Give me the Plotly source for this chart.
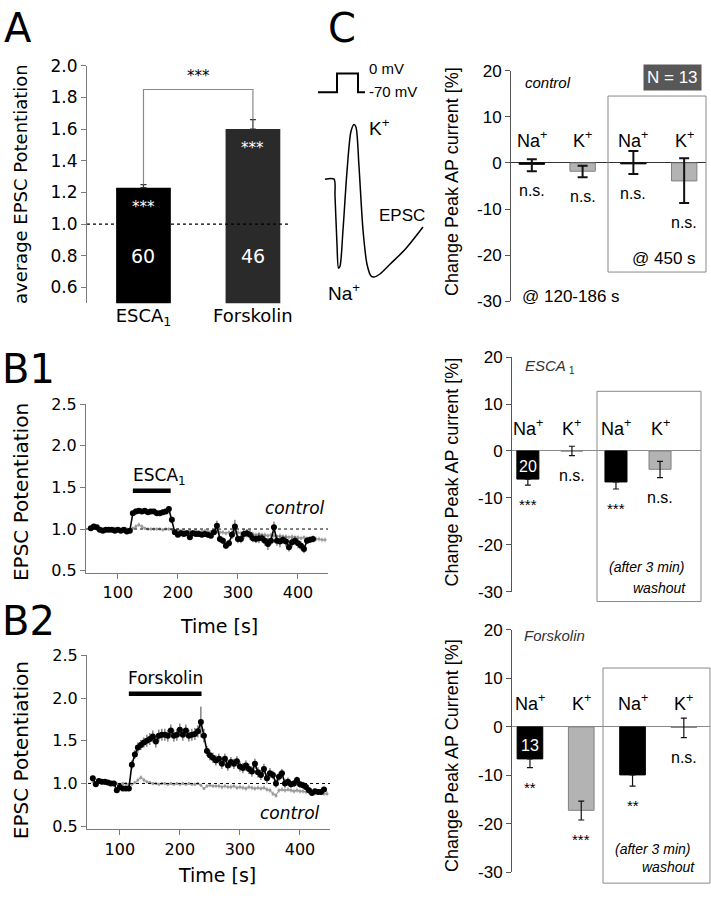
import plotly.graph_objects as go

W, H = 711, 899


def px(x):
    return x / W


def py(y):
    return 1 - y / H


# ---------------- data ----------------
# panel A
a_groups = ["ESCA<sub>1</sub>", "Forskolin"]
a_pos = [1, 2]
a_mean = [1.23, 1.60]
a_err = [0.02, 0.06]
a_n = ["60", "46"]
a_sig = ["***", "***"]
a_pair_sig = "***"

# panel B1 (ESCA1)
b1_t = [55, 60, 65, 70, 75, 80, 85, 90, 95, 100, 105, 110, 115, 120, 125, 130, 135, 140, 145, 150,
        155, 160, 165, 170, 175, 180, 185, 190, 195, 200, 205, 210, 215, 220, 225, 230, 235, 240, 245, 250,
        255, 260, 265, 270, 275, 280, 285, 290, 295, 300, 305, 310, 315, 320, 325, 330, 335, 340, 345, 350,
        355, 360, 365, 370, 375, 380, 385, 390, 395, 400, 405, 410, 415, 420, 425]
b1_val = [1.01, 1.03, 1.02, 0.99, 0.98, 0.99, 0.99, 0.99, 0.98, 0.99, 0.98, 0.99, 0.97, 0.98, 1.19, 1.21, 1.22, 1.21, 1.22, 1.20,
          1.21, 1.21, 1.19, 1.19, 1.20, 1.21, 1.24, 1.11, 0.96, 0.93, 0.95, 0.94, 0.95, 0.90, 0.95, 0.94, 0.94, 0.93, 0.94, 0.93,
          0.92, 0.96, 1.04, 0.88, 0.86, 0.80, 0.83, 0.93, 1.03, 0.88, 0.88, 0.94, 0.95, 0.93, 0.89, 0.88, 0.89, 0.89, 0.86, 0.82,
          0.86, 1.02, 0.86, 0.85, 0.87, 0.85, 0.78, 0.84, 0.86, 0.83, 0.80, 0.76, 0.86, 0.87, 0.88]
b1_err = [0.02, 0.02, 0.02, 0.02, 0.02, 0.02, 0.02, 0.02, 0.02, 0.02, 0.02, 0.02, 0.02, 0.02, 0.03, 0.03, 0.03, 0.03, 0.03, 0.03,
          0.03, 0.03, 0.03, 0.03, 0.03, 0.03, 0.03, 0.04, 0.03, 0.03, 0.03, 0.03, 0.03, 0.03, 0.03, 0.03, 0.03, 0.03, 0.03, 0.03,
          0.03, 0.03, 0.06, 0.04, 0.04, 0.04, 0.04, 0.05, 0.08, 0.05, 0.05, 0.06, 0.05, 0.06, 0.05, 0.05, 0.06, 0.05, 0.06, 0.07,
          0.05, 0.07, 0.06, 0.07, 0.05, 0.06, 0.05, 0.06, 0.05, 0.06, 0.05, 0.05, 0.04, 0.04, 0.04]
ctl_t = [55, 60, 65, 70, 75, 80, 85, 90, 95, 100, 105, 110, 115, 120, 125, 130, 135, 140, 145, 150,
         155, 160, 165, 170, 175, 180, 185, 190, 195, 200, 205, 210, 215, 220, 225, 230, 235, 240, 245, 250,
         255, 260, 265, 270, 275, 280, 285, 290, 295, 300, 305, 310, 315, 320, 325, 330, 335, 340, 345, 350,
         355, 360, 365, 370, 375, 380, 385, 390, 395, 400, 405, 410, 415, 420, 425, 430, 435, 440, 445]
b1_ctl = [1.00, 1.01, 1.00, 1.01, 1.00, 0.99, 1.00, 1.00, 1.01, 1.00, 0.99, 1.00, 1.00, 0.99,
          1.01, 1.03, 1.05, 1.03, 1.01, 1.00, 1.00, 1.00, 1.00, 1.00, 0.99, 1.00, 1.00, 0.99,
          0.98, 0.99, 0.98, 0.98, 0.97, 0.98, 0.97, 0.98, 0.97, 0.97, 0.98, 0.97, 0.97, 0.96,
          0.97, 0.96, 0.96, 0.95, 0.96, 0.95, 0.95, 0.96, 0.95, 0.94, 0.95, 0.94, 0.94, 0.93,
          0.94, 0.93, 0.93, 0.92, 0.93, 0.92, 0.91, 0.92, 0.91, 0.91, 0.90, 0.91, 0.90, 0.90,
          0.89, 0.90, 0.89, 0.88, 0.89, 0.88, 0.88, 0.87, 0.87]
ctl_err = [0.02, 0.02, 0.02, 0.02, 0.02, 0.02, 0.02, 0.02, 0.02, 0.02, 0.02, 0.02, 0.02, 0.02,
           0.02, 0.03, 0.03, 0.03, 0.02, 0.02, 0.02, 0.02, 0.02, 0.02, 0.02, 0.02, 0.02, 0.02,
           0.02, 0.02, 0.02, 0.02, 0.02, 0.02, 0.02, 0.02, 0.02, 0.02, 0.02, 0.02, 0.02, 0.02,
           0.03, 0.03, 0.03, 0.03, 0.03, 0.03, 0.03, 0.03, 0.03, 0.03, 0.03, 0.03, 0.03, 0.03,
           0.03, 0.03, 0.03, 0.03, 0.03, 0.03, 0.03, 0.03, 0.03, 0.03, 0.03, 0.03, 0.03, 0.03,
           0.03, 0.03, 0.03, 0.03, 0.03, 0.03, 0.03, 0.03, 0.03]
b1_drug_t = [125, 188]

# panel B2 (Forskolin)
b2_t = [55, 60, 65, 70, 75, 80, 85, 90, 95, 100, 105, 110, 115, 120, 125, 130, 135, 140, 145, 150,
        155, 160, 165, 170, 175, 180, 185, 190, 195, 200, 205, 210, 215, 220, 225, 230, 235, 240, 245, 250,
        255, 260, 265, 270, 275, 280, 285, 290, 295, 300, 305, 310, 315, 320, 325, 330, 335, 340, 345, 350,
        355, 360, 365, 370, 375, 380, 385, 390, 395, 400, 405, 410, 415, 420, 425, 430, 435, 440]
b2_val = [1.06, 0.99, 1.03, 1.02, 1.02, 1.01, 1.00, 1.00, 0.92, 0.96, 0.94, 0.94, 0.94, 1.22, 1.34, 1.42, 1.45, 1.48, 1.50, 1.52,
          1.55, 1.49, 1.56, 1.57, 1.57, 1.56, 1.62, 1.56, 1.57, 1.63, 1.57, 1.62, 1.56, 1.57, 1.58, 1.61, 1.72, 1.56, 1.38, 1.33,
          1.30, 1.27, 1.29, 1.23, 1.29, 1.21, 1.25, 1.23, 1.26, 1.20, 1.18, 1.21, 1.17, 1.14, 1.23, 1.13, 1.10, 1.17, 1.06, 1.12,
          1.10, 1.00, 1.08, 1.12, 1.00, 1.02, 0.99, 1.00, 1.04, 0.99, 0.98, 0.96, 0.92, 0.89, 0.91, 0.90, 0.90, 0.93]
b2_err = [0.03, 0.03, 0.03, 0.03, 0.03, 0.03, 0.03, 0.03, 0.03, 0.03, 0.03, 0.03, 0.03, 0.05, 0.05, 0.06, 0.06, 0.06, 0.07, 0.07,
          0.07, 0.07, 0.07, 0.07, 0.07, 0.07, 0.07, 0.07, 0.07, 0.07, 0.07, 0.07, 0.07, 0.07, 0.07, 0.07, 0.18, 0.08, 0.06, 0.06,
          0.06, 0.06, 0.06, 0.06, 0.06, 0.06, 0.06, 0.06, 0.06, 0.06, 0.06, 0.06, 0.06, 0.06, 0.06, 0.06, 0.06, 0.06, 0.06, 0.06,
          0.05, 0.05, 0.05, 0.05, 0.05, 0.05, 0.04, 0.04, 0.04, 0.04, 0.04, 0.04, 0.04, 0.03, 0.03, 0.03, 0.03, 0.03]
b2_ctl = [1.02, 1.01, 1.02, 1.01, 1.00, 1.01, 1.00, 1.01, 1.00, 0.99, 1.00, 1.00, 0.99, 0.99,
          1.01, 1.04, 1.07, 1.04, 1.02, 1.01, 1.00, 1.00, 0.99, 1.00, 1.00, 0.99, 1.00, 0.99,
          1.00, 0.99, 1.00, 0.99, 1.00, 0.99, 0.99, 1.00, 0.98, 0.94, 0.97, 0.98, 0.97, 0.97,
          0.97, 0.96, 0.97, 0.96, 0.96, 0.97, 0.95, 0.96, 0.95, 0.94, 0.96, 0.95, 0.94, 0.95,
          0.94, 0.95, 0.93, 0.92, 0.88, 0.86, 0.92, 0.93, 0.92, 0.93, 0.92, 0.91, 0.92, 0.91,
          0.91, 0.90, 0.91, 0.90, 0.89, 0.90, 0.89, 0.88, 0.88]
b2_drug_t = [115, 236]

# panel C, schematic voltage step and AP current
step_t = [8, 27, 27, 48, 48, 55]
step_v = [-34, -34, -15, -15, -34, -34]
trace_t = [15, 24, 25, 27, 28.5, 30, 33, 37, 41, 44, 46, 49, 53, 57, 61, 64, 70, 80, 95, 113]
trace_i = [-123, -123, -140, -190, -214, -212, -175, -115, -74, -67, -70, -110, -175, -210, -222, -223, -220, -210, -195, -172]

# panel C, bar charts
c_ions = ["Na", "K", "Na", "K"]
c_pos = [0, 1, 2, 3]
ctrl_mean = [-0.3, -1.8, -0.2, -3.9]
ctrl_up = [1.1, 1.2, 2.8, 4.9]
ctrl_down = [1.5, 1.3, 2.2, 4.8]
ctrl_sig = ["n.s.", "n.s.", "n.s.", "n.s."]
esca_mean = [-6.0, 0.0, -6.6, -3.9]
esca_up = [0, 1.0, 0, 1.7]
esca_down = [1.3, 1.0, 1.5, 1.8]
esca_sig = ["***", "n.s.", "***", "n.s."]
forsk_mean = [-6.6, -17.2, -9.9, -0.1]
forsk_up = [0, 1.9, 0, 1.9]
forsk_down = [1.8, 2.0, 2.3, 2.1]
forsk_sig = ["**", "***", "**", "n.s."]
c_ticks = [20, 10, 0, -10, -20, -30]
c_ticktext = ["20", "10", "0", "-10", "-20", "-30"]

# ---------------- styles ----------------
FA = "DejaVu Sans"
FC = "Liberation Sans"
ion_color = {"Na": "#000000", "K": "#b3b3b3"}
ion_line = {"Na": "#000000", "K": "#808080"}

fig = go.Figure()

# A bars
fig.add_trace(go.Bar(
    x=a_pos, y=a_mean, width=0.5, marker=dict(color=["#000000", "#2a2a2a"], line=dict(width=0)),
    error_y=dict(type="data", array=a_err, arrayminus=[0, 0], color="#333", thickness=1.2, width=3),
    xaxis="x", yaxis="y", showlegend=False))

# B panels
for t, val, err, ctl, drug, lvl, ax in [
        (b1_t, b1_val, b1_err, b1_ctl, b1_drug_t, 1.46, "2"),
        (b2_t, b2_val, b2_err, b2_ctl, b2_drug_t, 2.05, "3")]:
    fig.add_trace(go.Scatter(
        x=ctl_t, y=ctl, mode="lines+markers",
        line=dict(color="#8c8c8c", width=1), marker=dict(size=3, color="#9a9a9a"),
        error_y=dict(type="data", array=ctl_err, color="#c4c4c4", thickness=1, width=0),
        xaxis="x" + ax, yaxis="y" + ax, showlegend=False))
    fig.add_trace(go.Scatter(
        x=t, y=val, mode="lines+markers",
        line=dict(color="black", width=1.6), marker=dict(size=6, color="black"),
        error_y=dict(type="data", array=err, color="#444", thickness=1, width=0),
        xaxis="x" + ax, yaxis="y" + ax, showlegend=False))
    fig.add_trace(go.Scatter(
        x=drug, y=[lvl, lvl], mode="lines",
        line=dict(color="black", width=4.5),
        xaxis="x" + ax, yaxis="y" + ax, showlegend=False))

# C bar panels
c_sets = [(ctrl_mean, ctrl_up, ctrl_down, ctrl_sig, "4", 2),
          (esca_mean, esca_up, esca_down, esca_sig, "5", 1.2),
          (forsk_mean, forsk_up, forsk_down, forsk_sig, "6", 1.2)]
for mean, up, down, sig, ax, th in c_sets:
    fig.add_trace(go.Bar(
        x=c_pos, y=mean, width=0.5,
        marker=dict(color=[ion_color[i] for i in c_ions],
                    line=dict(color=[ion_line[i] for i in c_ions], width=1)),
        error_y=dict(type="data", array=up, arrayminus=down, color="#111", thickness=th,
                     width=5 if th > 1.5 else 3),
        xaxis="x" + ax, yaxis="y" + ax, showlegend=False))

# schematic
fig.add_trace(go.Scatter(x=step_t, y=step_v, mode="lines", line=dict(color="black", width=2),
                         xaxis="x7", yaxis="y7", showlegend=False))
fig.add_trace(go.Scatter(x=trace_t, y=trace_i, mode="lines",
                         line=dict(color="black", width=1.5, shape="spline", smoothing=0.8),
                         xaxis="x7", yaxis="y7", showlegend=False))

ann = []
shapes = []


def txt(text, x, y, ref, size, font=FA, color="black", xanchor="center", yanchor="middle", **kw):
    xr, yr = ("paper", "paper") if ref == "paper" else ("x" + ref, "y" + ref)
    ann.append(dict(text=text, x=x, y=y, xref=xr, yref=yr, showarrow=False,
                    font=dict(family=font, size=size, color=color),
                    xanchor=xanchor, yanchor=yanchor, **kw))


# panel letters
txt("A", px(2), py(18), "paper", 40, xanchor="left")
txt("C", px(326), py(18), "paper", 40, xanchor="left")
txt("B1", px(0), py(367), "paper", 40, xanchor="left")
txt("B2", px(0), py(625), "paper", 40, xanchor="left")

# A annotations
for x, m, e, n, s in zip(a_pos, a_mean, a_err, a_n, a_sig):
    txt(s, x, m, "", 15, color="white", yanchor="top", yshift=-8)
    txt(n, x, 0.8, "", 19, color="white")
top = 1.85
shapes.append(dict(type="path", xref="x", yref="y",
                   path=f"M {a_pos[0]},{a_mean[0] + a_err[0]} L {a_pos[0]},{top} L {a_pos[1]},{top} L {a_pos[1]},{a_mean[1] + a_err[1]}",
                   line=dict(color="#8a8a8a", width=1.2)))
txt(a_pair_sig, (a_pos[0] + a_pos[1]) / 2, top, "", 15, yanchor="bottom", yshift=2)
shapes.append(dict(type="line", xref="x", yref="y", x0=0.484, x1=2.33, y0=1.0, y1=1.0,
                   line=dict(color="black", width=1.3, dash="3px,3px")))
txt("average EPSC Potentiation", px(20), py(178), "paper", 18, textangle=-90)

# B annotations
txt("ESCA<sub>1</sub>", 122, 1.63, "2", 17, xanchor="left")
txt("<i>control</i>", 449, 1.25, "2", 17, xanchor="right")
txt("Forskolin", 111, 2.23, "3", 17, xanchor="left")
txt("<i>control</i>", 437, 0.65, "3", 17, xanchor="right")
for ax, ytit in [("2", 493), ("3", 757)]:
    shapes.append(dict(type="line", xref="x" + ax, yref="y" + ax, x0=47, x1=452, y0=1.0, y1=1.0,
                       line=dict(color="black", width=1, dash="dot")))
    txt("EPSC Potentiation", px(21), py(ytit), "paper", 20, textangle=-90)
txt("Time [s]", px(219), py(630), "paper", 19)
txt("Time [s]", px(217), py(885), "paper", 19)

# schematic text
txt("0 mV", 57, -10, "7", 15, font=FC, xanchor="left")
txt("-70 mV", 57, -33, "7", 15, font=FC, xanchor="left")
txt("K<sup>+</sup>", 57, -70, "7", 19, font=FC, xanchor="left")
txt("EPSC", 67, -160, "7", 17, font=FC, xanchor="left")
txt("Na<sup>+</sup>", 16, -238, "7", 19, font=FC, xanchor="left")

# C bar panels text
for mean, up, down, sig, ax, th in c_sets:
    for x, ion, m, d, s in zip(c_pos, c_ions, mean, down, sig):
        txt(f"{ion}<sup>+</sup>", x, 5, ax, 18, font=FC)
        txt(s, x, m - d, ax, 16 if s == "n.s." else 15, font=FC, yanchor="top", yshift=-9)

txt("<i>control</i>", -0.18, 17.5, "4", 15, font=FC, xanchor="left")
txt("N = 13", 2.78, 18.5, "4", 17, font=FC, color="white", bgcolor="#585858", borderpad=3)
txt("@ 450 s", 3.28, -20.8, "4", 17, font=FC, xanchor="right")
txt("@ 120-186 s", -0.24, -29, "4", 17, font=FC, xanchor="left")

txt("<i>ESCA</i><sub> 1</sub>", -0.11, 18, "5", 15, font=FC, color="#333", xanchor="left")
txt("20", c_pos[0], -3.3, "5", 16, font=FC, color="white")
txt("<i>(after 3 min)</i>", 2.7, -24.8, "5", 14, font=FC)
txt("<i>washout</i>", 3.64, -29.3, "5", 14, font=FC, xanchor="right")

txt("<i>Forskolin</i>", -0.16, 18.8, "6", 15, font=FC, color="#333", xanchor="left")
txt("13", c_pos[0], -3.8, "6", 16, font=FC, color="white")
txt("<i>(after 3 min)</i>", 2.38, -25.2, "6", 14, font=FC)
txt("<i>washout</i>", 3.26, -28.9, "6", 14, font=FC, xanchor="right")

txt("Change Peak AP current [%]", px(452), py(176), "paper", 18, font=FC, textangle=-90)
txt("Change Peak AP current [%]", px(452), py(473), "paper", 18, font=FC, textangle=-90)
txt("Change Peak AP Current [%]", px(452), py(763), "paper", 18, font=FC, textangle=-90)

# grouping boxes
for x0, y0, x1, y1 in [(608, 88, 706, 268), (597, 390, 701, 605), (603, 673, 710, 893)]:
    shapes.append(dict(type="rect", xref="paper", yref="paper", x0=px(x0), x1=px(x1), y0=py(y1), y1=py(y0),
                       line=dict(color="#8a8a8a", width=1)))

axis_common = dict(showgrid=False, zeroline=False, ticks="outside", ticklen=5,
                   linecolor="#7a7a7a", tickcolor="#7a7a7a", showline=True)

layout = dict(
    width=W, height=H, margin=dict(l=0, r=0, t=0, b=0),
    paper_bgcolor="white", plot_bgcolor="rgba(0,0,0,0)",
    showlegend=False, annotations=ann, shapes=shapes,
    xaxis=dict(domain=[px(87), px(300)], range=[0.484, 2.43], tickvals=a_pos, ticktext=a_groups,
               showgrid=False, zeroline=False, showline=False, ticks="",
               tickfont=dict(family=FA, size=18, color="black"), anchor="y"),
    yaxis=dict(domain=[py(300), py(57)], range=[0.5, 2.0], tick0=0.6, dtick=0.2, tickformat=".1f",
               tickfont=dict(family=FA, size=17, color="black"), anchor="x", **axis_common),
    xaxis2=dict(domain=[px(86), px(328)], range=[47, 450], tickvals=[100, 200, 300, 400],
                tickfont=dict(family=FA, size=16, color="black"), anchor="y2", **axis_common),
    yaxis2=dict(domain=[py(576), py(403)], range=[0.47, 2.5], tickvals=[0.5, 1.0, 1.5, 2.0, 2.5],
                tickformat=".1f", tickfont=dict(family=FA, size=16, color="black"), anchor="x2", **axis_common),
    xaxis3=dict(domain=[px(87), px(330)], range=[45.3, 450], tickvals=[100, 200, 300, 400],
                tickfont=dict(family=FA, size=16, color="black"), anchor="y3", **axis_common),
    yaxis3=dict(domain=[py(838), py(660)], range=[0.463, 2.5], tickvals=[0.5, 1.0, 1.5, 2.0, 2.5],
                tickformat=".1f", tickfont=dict(family=FA, size=16, color="black"), anchor="x3", **axis_common),
    xaxis7=dict(domain=[px(310), px(440)], range=[0, 130], visible=False, anchor="y7"),
    yaxis7=dict(domain=[py(300), py(50)], range=[-250, 0], visible=False, anchor="x7"),
)
for ax, xd, yd, xr, zc in [("4", (511, 706), (298, 62), (-0.41, 3.43), "#333"),
                           ("5", (512, 701), (595, 355), (-0.36, 3.93), "#8a8a8a"),
                           ("6", (512, 710), (882, 634), (-0.35, 3.51), "#8a8a8a")]:
    layout["xaxis" + ax] = dict(domain=[px(xd[0]), px(xd[1])], range=list(xr), visible=False, anchor="y" + ax)
    layout["yaxis" + ax] = dict(domain=[py(yd[0]), py(yd[1])], range=[-30, 20], tickvals=c_ticks,
                                ticktext=c_ticktext, showgrid=False, zeroline=True, zerolinecolor=zc,
                                zerolinewidth=1.2, ticks="outside", ticklen=5, showline=True,
                                linecolor="#555", tickcolor="#555",
                                tickfont=dict(family=FC, size=17, color="black"), anchor="x" + ax)

fig.update_layout(**layout)
fig.write_html("out.html", config={"displayModeBar": False},
               post_script="document.body.style.margin='0';document.body.style.overflow='hidden';")
